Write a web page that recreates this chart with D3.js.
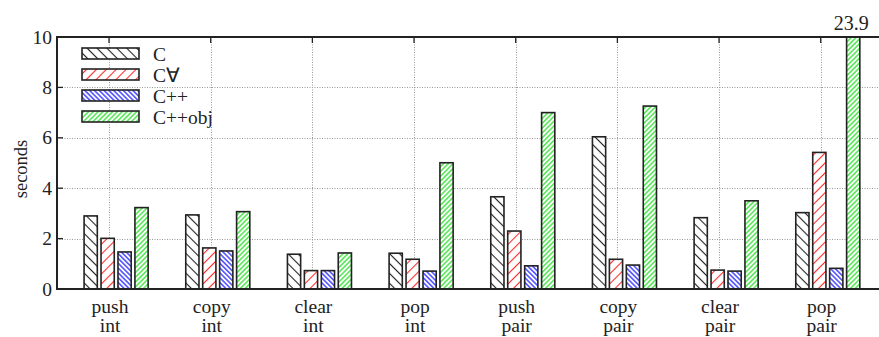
<!DOCTYPE html>
<html>
<head>
<meta charset="utf-8">
<script src="https://cdn.jsdelivr.net/npm/d3@7"></script>
<style>
  body { margin: 0; background: #fff; }
</style>
</head>
<body>
<svg id="chart" width="879" height="337"></svg>
<script>
// categories (two-line labels)
var categories = ["push int", "copy int", "clear int", "pop int", "push pair", "copy pair", "clear pair", "pop pair"];
var series = ["C", "C\u2200", "C++", "C++obj"];

// seconds per series, one value per category
var valsC      = [2.90, 2.94, 1.38, 1.42, 3.66, 6.04, 2.83, 3.03];
var valsCfa    = [2.01, 1.63, 0.73, 1.18, 2.30, 1.18, 0.75, 5.42];
var valsCpp    = [1.47, 1.51, 0.73, 0.71, 0.92, 0.95, 0.71, 0.82];
var valsCppObj = [3.23, 3.07, 1.43, 5.01, 7.00, 7.26, 3.50, 23.9];

var yTicks = [0, 2, 4, 6, 8, 10];

var seriesVals = [valsC, valsCfa, valsCpp, valsCppObj];
var hatch = [
	{ id: "h0", color: "#222", gap: 7, angle: -45, w: 1.1 },
	{ id: "h1", color: "#ff2a2a", gap: 7, angle: 45, w: 1.1 },
	{ id: "h2", color: "#1a1aff", gap: 3.4, angle: -45, w: 1.2 },
	{ id: "h3", color: "#22dd22", gap: 3.4, angle: 45, w: 1.2 }
];

var svg = d3.select("#chart");
var FONT = "'Liberation Serif', 'Times New Roman', Times, serif";
var W = 879;
var plotLeft = 57, plotTop = 37, plotBottom = 289;

var x0 = d3.scaleBand()
		.domain(categories)
		.range([plotLeft + 1.2, plotLeft + 1.2 + 8 * 101.67]);
var pitch = x0.bandwidth() / 6;
var x1 = d3.scaleBand()
		.domain(series)
		.range([0, 4 * pitch]);
var barW = pitch * 0.78;
var y = d3.scaleLinear().domain([0, 10]).range([plotBottom, plotTop]).clamp(true);

// hatch patterns
var defs = svg.append("defs");
hatch.forEach(function(h){
	var p = defs.append("pattern")
			.attr("id", h.id)
			.attr("patternUnits", "userSpaceOnUse")
			.attr("width", h.gap)
			.attr("height", h.gap)
			.attr("patternTransform", "rotate(" + h.angle + ")");
	p.append("rect").attr("width", h.gap).attr("height", h.gap).attr("fill", "#fff");
	p.append("line")
			.attr("x1", h.gap / 2).attr("x2", h.gap / 2)
			.attr("y1", 0).attr("y2", h.gap)
			.attr("stroke", h.color)
			.attr("stroke-width", h.w);
});

function tickX(c){ return x0(c) + x0.bandwidth() / 2; }

// grid
var grid = svg.append("g")
		.attr("stroke", "#999")
		.attr("stroke-width", 1)
		.attr("stroke-dasharray", "1,1.5");
grid.selectAll(".gy")
		.data(yTicks.filter(function(d){ return d > 0 && d < 10; }))
		.enter()
		.append("line")
		.attr("x1", plotLeft).attr("x2", W)
		.attr("y1", function(d){ return Math.round(y(d)) + 0.5; })
		.attr("y2", function(d){ return Math.round(y(d)) + 0.5; });
grid.selectAll(".gx")
		.data(categories)
		.enter()
		.append("line")
		.attr("x1", function(d){ return Math.round(tickX(d)) + 0.5; })
		.attr("x2", function(d){ return Math.round(tickX(d)) + 0.5; })
		.attr("y1", plotTop).attr("y2", plotBottom);

// bars
var groups = svg.append("g").selectAll(".grp")
		.data(categories)
		.enter()
		.append("g")
		.attr("transform", function(d){ return "translate(" + (tickX(d) - 25.7) + ",0)"; });

groups.selectAll("rect")
		.data(function(c, i){
			return series.map(function(s, j){ return { s: s, j: j, v: seriesVals[j][i] }; });
		})
		.enter()
		.append("rect")
		.attr("x", function(d){ return x1(d.s) + 0.75; })
		.attr("width", barW)
		.attr("y", function(d){ return y(d.v); })
		.attr("height", function(d){ return plotBottom - y(d.v); })
		.style("fill", function(d){ return "url(#" + hatch[d.j].id + ")"; })
		.style("stroke", "#222")
		.style("stroke-width", 1.6);

// value label of the clipped bar
var lastCat = categories[categories.length - 1];
svg.append("text")
		.attr("x", tickX(lastCat) - 25.7 + x1(series[3]) + 0.75 + barW / 2 - 2)
		.attr("y", 30)
		.attr("text-anchor", "middle")
		.style("font-family", FONT)
		.style("fill", "#222")
		.style("font-size", "20px")
		.text(valsCppObj[valsCppObj.length - 1]);

// axes frame
var ax = svg.append("g").attr("stroke", "#222").attr("stroke-width", 2);
ax.append("line").attr("x1", plotLeft).attr("x2", W).attr("y1", plotTop).attr("y2", plotTop);
ax.append("line").attr("x1", plotLeft).attr("x2", W).attr("y1", plotBottom).attr("y2", plotBottom);
ax.append("line").attr("x1", plotLeft).attr("x2", plotLeft).attr("y1", plotTop - 1).attr("y2", plotBottom + 1);

// inward ticks
var tk = svg.append("g").attr("stroke", "#222").attr("stroke-width", 1.3);
tk.selectAll(".ty")
		.data(yTicks)
		.enter()
		.append("line")
		.attr("x1", plotLeft).attr("x2", plotLeft + 6)
		.attr("y1", function(d){ return y(d); })
		.attr("y2", function(d){ return y(d); });
tk.selectAll(".tx")
		.data(categories)
		.enter()
		.append("line")
		.attr("x1", function(d){ return tickX(d); })
		.attr("x2", function(d){ return tickX(d); })
		.attr("y1", plotTop).attr("y2", plotTop + 6);

// y tick labels
svg.selectAll(".yl")
		.data(yTicks)
		.enter()
		.append("text")
		.attr("x", plotLeft - 5)
		.attr("y", function(d){ return y(d) + 6.5; })
		.attr("text-anchor", "end")
		.style("font-family", FONT)
		.style("fill", "#222")
		.style("font-size", "19.5px")
		.text(function(d){ return d; });

// x labels (two lines)
svg.selectAll(".xl")
		.data(categories)
		.enter()
		.append("text")
		.attr("text-anchor", "middle")
		.style("font-family", FONT)
		.style("fill", "#222")
		.style("font-size", "19.5px")
		.each(function(d){
			var parts = d.split(" ");
			var t = d3.select(this);
			t.append("tspan").attr("x", tickX(d) + 1).attr("y", 313).text(parts[0]);
			t.append("tspan").attr("x", tickX(d) + 1).attr("y", 331.5).text(parts[1]);
		});

// y axis title
svg.append("text")
		.attr("transform", "translate(27,169) rotate(-90)")
		.attr("text-anchor", "middle")
		.style("font-family", FONT)
		.style("fill", "#222")
		.style("font-size", "18.5px")
		.text("seconds");

// legend
var legend = svg.append("g").selectAll(".lg")
		.data(series)
		.enter()
		.append("g")
		.attr("transform", function(d, i){ return "translate(82," + (48 + i * 21) + ")"; });
legend.append("rect")
		.attr("width", 57)
		.attr("height", 11)
		.style("fill", function(d, i){ return "url(#" + hatch[i].id + ")"; })
		.style("stroke", "#222")
		.style("stroke-width", 1.6);
legend.append("text")
		.attr("x", 71)
		.attr("y", 12.5)
		.style("font-family", FONT)
		.style("fill", "#222")
		.style("font-size", "19.5px")
		.text(function(d){ return d; });
</script>
</body>
</html>
